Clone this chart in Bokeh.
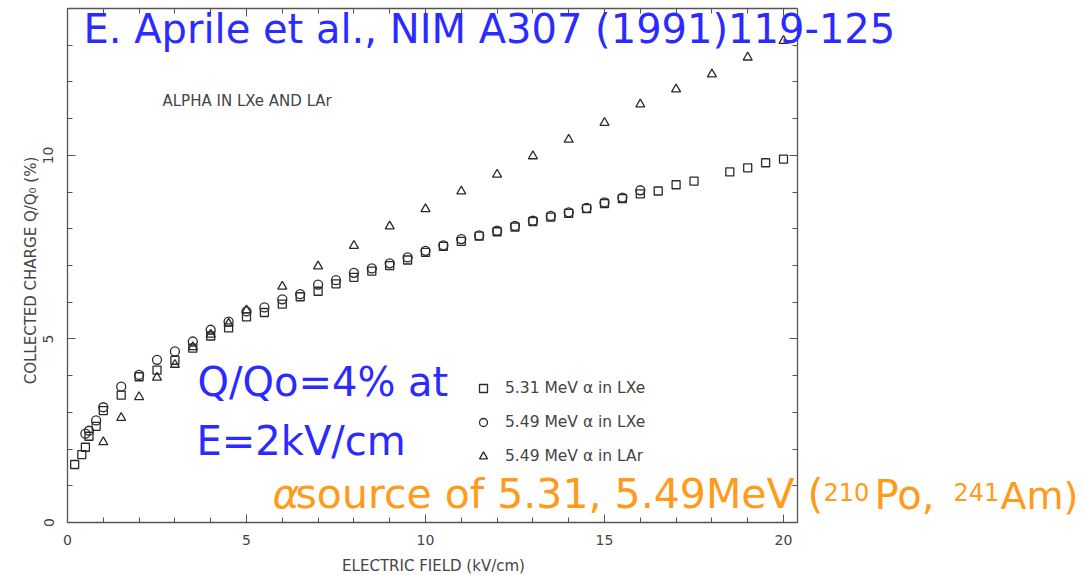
import math
from bokeh.plotting import figure
from bokeh.models import Range1d, LinearAxis, Label, Legend, LegendItem, SingleIntervalTicker
from bokeh.embed import file_html
from bokeh.resources import INLINE

# ---- data ----
e_xe531 = [0.2, 0.4, 0.5, 0.6, 0.8, 1.0, 1.5, 2.0, 2.5, 3.0, 3.5, 4.0, 4.5, 5.0, 5.5, 6.0, 6.5, 7.0,
           7.5, 8.0, 8.5, 9.0, 9.5, 10.0, 10.5, 11.0, 11.5, 12.0, 12.5, 13.0, 13.5, 14.0, 14.5, 15.0,
           15.5, 16.0, 16.5, 17.0, 17.5, 18.5, 19.0, 19.5, 20.0]
q_xe531 = [1.58, 1.85, 2.05, 2.35, 2.62, 3.05, 3.47, 3.97, 4.15, 4.42, 4.75, 5.08, 5.30, 5.60, 5.72,
           5.95, 6.15, 6.30, 6.50, 6.68, 6.85, 7.00, 7.15, 7.36, 7.52, 7.66, 7.80, 7.92, 8.05, 8.20,
           8.32, 8.42, 8.55, 8.69, 8.82, 8.95, 9.03, 9.20, 9.30, 9.55, 9.66, 9.80, 9.90]

e_xe549 = [0.5, 0.6, 0.8, 1.0, 1.5, 2.0, 2.5, 3.0, 3.5, 4.0, 4.5, 5.0, 5.5, 6.0, 6.5, 7.0, 7.5, 8.0,
           8.5, 9.0, 9.5, 10.0, 10.5, 11.0, 11.5, 12.0, 12.5, 13.0, 13.5, 14.0, 14.5, 15.0, 15.5, 16.0]
q_xe549 = [2.42, 2.50, 2.78, 3.14, 3.70, 4.02, 4.43, 4.66, 4.93, 5.25, 5.47, 5.75, 5.86, 6.08, 6.22,
           6.48, 6.60, 6.80, 6.92, 7.06, 7.22, 7.40, 7.55, 7.72, 7.82, 7.95, 8.08, 8.22, 8.35, 8.45,
           8.57, 8.72, 8.85, 9.05]

e_ar549 = [1.0, 1.5, 2.0, 2.5, 3.0, 3.5, 4.0, 4.5, 5.0, 6.0, 7.0, 8.0, 9.0, 10.0, 11.0, 12.0, 13.0,
           14.0, 15.0, 16.0, 17.0, 18.0, 19.0, 20.0]
q_ar549 = [2.19, 2.85, 3.42, 3.95, 4.30, 4.78, 5.12, 5.42, 5.78, 6.43, 6.98, 7.54, 8.07, 8.54, 9.02,
           9.48, 9.98, 10.43, 10.89, 11.39, 11.80, 12.21, 12.67, 13.12]

series_labels = ["5.31 MeV α in LXe", "5.49 MeV α in LXe", "5.49 MeV α in LAr"]

title_text = "E. Aprile et al., NIM A307 (1991)119-125"
inset_text = "ALPHA IN LXe AND LAr"
x_title = "ELECTRIC FIELD (kV/cm)"
y_title = "COLLECTED CHARGE Q/Q\u2080 (%)"

# axis box extents (data units)
X_MAX = 20.39
Y_MAX = 14.0

FONT = "DejaVu Sans"
BLUE = "#2b2bff"
ORANGE = "#ff9a1a"
AX = "#555555"
W, H = 1084, 575
PX_X = 35.8    # pixels per kV/cm
PX_Y = 36.71   # pixels per %
X0, Y0 = 67, 522  # pixel position of the data origin

p = figure(width=W, height=H, output_backend="svg", toolbar_location=None,
           x_range=Range1d(-X0 / PX_X, (W - X0) / PX_X),
           y_range=Range1d(-(H - Y0) / PX_Y, Y0 / PX_Y),
           x_axis_location=None, y_axis_location=None,
           min_border=0, min_border_left=0, min_border_right=0,
           min_border_top=0, min_border_bottom=0)
p.grid.visible = False
p.outline_line_color = None
p.background_fill_color = "white"
p.border_fill_color = "white"


def make_axis(side, fixed, bounds, labels):
    ax = LinearAxis(ticker=SingleIntervalTicker(interval=5, num_minor_ticks=5),
                    fixed_location=fixed, bounds=bounds)
    ax.axis_line_color = AX
    ax.axis_line_width = 1.3
    ax.major_tick_line_color = AX
    ax.minor_tick_line_color = AX
    ax.major_tick_in = 8
    ax.major_tick_out = 0
    ax.minor_tick_in = 5
    ax.minor_tick_out = 0
    ax.major_label_text_font = FONT
    ax.major_label_text_font_size = "14px"
    if labels:
        ax.major_label_text_color = "#444444"
    else:
        ax.major_label_text_color = None
    p.add_layout(ax, side)
    return ax


bx = make_axis("below", 0, (0, X_MAX), True)
bx.major_label_standoff = 12
ly = make_axis("left", 0, (0, Y_MAX), True)
ly.major_label_orientation = "vertical"
ly.major_label_standoff = 14
make_axis("above", Y_MAX, (0, X_MAX), False)
make_axis("right", X_MAX, (0, Y_MAX), False)

mk = dict(fill_color=None, line_color="#2a2a2a", line_width=1.3)
r1 = p.scatter(e_xe531, q_xe531, marker="square", size=8, **mk)
r2 = p.scatter(e_xe549, q_xe549, marker="circle", size=9, **mk)
r3 = p.scatter(e_ar549, q_ar549, marker="triangle", size=9, **mk)

legend = Legend(items=[LegendItem(label=series_labels[0], renderers=[r1]),
                       LegendItem(label=series_labels[1], renderers=[r2]),
                       LegendItem(label=series_labels[2], renderers=[r3])],
                location=(473, 109), border_line_color=None, background_fill_alpha=0,
                padding=0, margin=0, spacing=14, glyph_width=20, glyph_height=20,
                label_height=20, label_standoff=12, label_text_font=FONT,
                label_text_font_size="15.5px", label_text_color="#444444")
p.add_layout(legend)


def lab(x, y, text, size, color, **kw):
    # x, y: pixels from the canvas' left / bottom edge (y = bottom of the text box)
    p.add_layout(Label(x=x, y=y, x_units="screen", y_units="screen", text=text,
                       text_font=FONT, text_font_size=size, text_color=color, **kw))


lab(83, 524, title_text, "40px", BLUE)
lab(162, 475, inset_text, "15px", "#444444", text_baseline="middle")
lab(197, 171, "Q/Qo=4% at", "40px", BLUE)
lab(196, 112, "E=2kV/cm", "40px", BLUE)
lab(272, 58, "α", "41px", ORANGE, text_font_style="italic")
lab(295, 58, "source of 5.31, 5.49MeV (", "41px", ORANGE)
lab(823, 75, "210", "24px", ORANGE)
lab(874, 58, "Po,", "40px", ORANGE)
lab(953, 75, "241", "24px", ORANGE)
lab(1000, 58, "Am)", "38px", ORANGE)
lab(433, 10, x_title, "15px", "#444444", text_align="center", text_baseline="middle")
lab(30, 305, y_title, "15px", "#444444", text_align="center", text_baseline="middle",
    angle=math.pi / 2)

open("out.html", "w").write(file_html(p, INLINE))
